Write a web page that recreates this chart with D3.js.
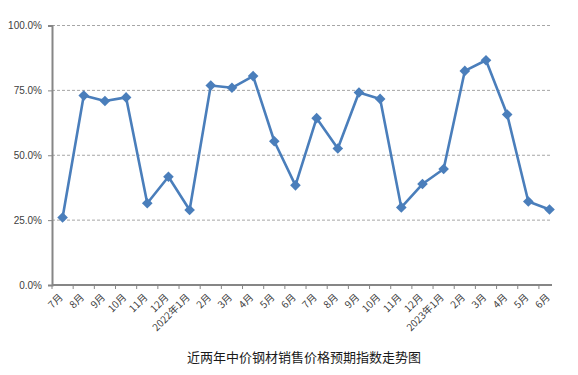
<!DOCTYPE html>
<html>
<head>
<meta charset="utf-8">
<script src="https://cdn.jsdelivr.net/npm/d3@7"></script>
<style>
  body { margin: 0; background: #fff; }
  svg { display: block; }
</style>
</head>
<body>
<svg id="chart" width="578" height="375"></svg>
<script>
// month labels along the x axis
const months = ["7月", "8月", "9月", "10月", "11月", "12月", "2022年1月", "2月", "3月", "4月", "5月", "6月",
  "7月", "8月", "9月", "10月", "11月", "12月", "2023年1月", "2月", "3月", "4月", "5月", "6月"];
// expected price index (%)
const priceIndex = [26.0, 73.0, 70.9, 72.3, 31.5, 41.7, 28.9, 76.9, 76.0, 80.5, 55.4, 38.4,
  64.3, 52.6, 74.2, 71.7, 29.9, 38.9, 44.7, 82.5, 86.6, 65.7, 32.2, 29.1];
const yTicks = [0, 25, 50, 75, 100];
const title = "近两年中价钢材销售价格预期指数走势图";

const svg = d3.select("#chart");
const plotLeft = 52, plotRight = 552, plotTop = 25.5, plotBottom = 285;
const keys = months.map((m, i) => i);

const x = d3.scaleBand().domain(keys).range([plotLeft, plotLeft + 24 * 21.17]);
const y = d3.scaleLinear().domain([0, 100]).range([plotBottom, plotTop]);

// dashed gridlines
svg.append("g")
  .selectAll("line")
  .data(yTicks.filter(t => t > 0))
  .enter()
  .append("line")
  .attr("x1", plotLeft).attr("x2", plotRight)
  .attr("y1", d => y(d)).attr("y2", d => y(d))
  .attr("stroke", "#a6a6a6")
  .attr("stroke-width", 1)
  .attr("stroke-dasharray", "3,2");

// y axis
const yAxis = svg.append("g")
  .attr("transform", `translate(${plotLeft},0)`)
  .call(d3.axisLeft(y).tickValues(yTicks).tickSize(4).tickFormat(d => d.toFixed(1) + "%"));
yAxis.select(".domain").attr("stroke", "#868686").attr("stroke-width", 2);
yAxis.selectAll(".tick line").attr("stroke", "#868686");
yAxis.selectAll("text")
  .attr("x", -10)
  .attr("fill", "#404040")
  .style("font-family", "Liberation Sans, Arial, sans-serif")
  .style("font-size", "10px");

// x axis
const xAxisG = svg.append("g").attr("transform", `translate(0,${plotBottom})`);
xAxisG.append("line")
  .attr("x1", plotLeft).attr("x2", plotRight)
  .attr("stroke", "#868686").attr("stroke-width", 2);
xAxisG.selectAll("line.tick")
  .data(keys.map(k => x(k)).filter(v => v <= plotRight))
  .enter()
  .append("line")
  .attr("class", "tick")
  .attr("x1", d => d).attr("x2", d => d)
  .attr("y1", 0).attr("y2", 4)
  .attr("stroke", "#868686");
xAxisG.selectAll("text")
  .data(keys)
  .enter()
  .append("text")
  .attr("transform", d => `translate(${x(d) + x.bandwidth() / 2 + 1},${13}) rotate(-45)`)
  .attr("text-anchor", "end")
  .attr("fill", "#404040")
  .style("font-family", "Noto Sans CJK SC, sans-serif")
  .style("font-size", "10px")
  .text(d => months[d]);

// line series
const cx = i => x(i) + x.bandwidth() / 2;
svg.append("path")
  .datum(priceIndex)
  .attr("fill", "none")
  .attr("stroke", "#4a7ebb")
  .attr("stroke-width", 2.6)
  .attr("stroke-linejoin", "round")
  .attr("d", d3.line().x((d, i) => cx(i)).y(d => y(d)));

svg.append("g")
  .selectAll("path")
  .data(priceIndex)
  .enter()
  .append("path")
  .attr("transform", (d, i) => `translate(${cx(i)},${y(d)})`)
  .attr("d", d3.symbol().type(d3.symbolDiamond2).size(72))
  .attr("fill", "#4a7ebb");

// chart title
svg.append("text")
  .attr("x", 304)
  .attr("y", 362)
  .attr("text-anchor", "middle")
  .attr("fill", "#1a1a1a")
  .style("font-family", "Noto Sans CJK SC, sans-serif")
  .style("font-size", "13px")
  .text(title);
</script>
</body>
</html>
